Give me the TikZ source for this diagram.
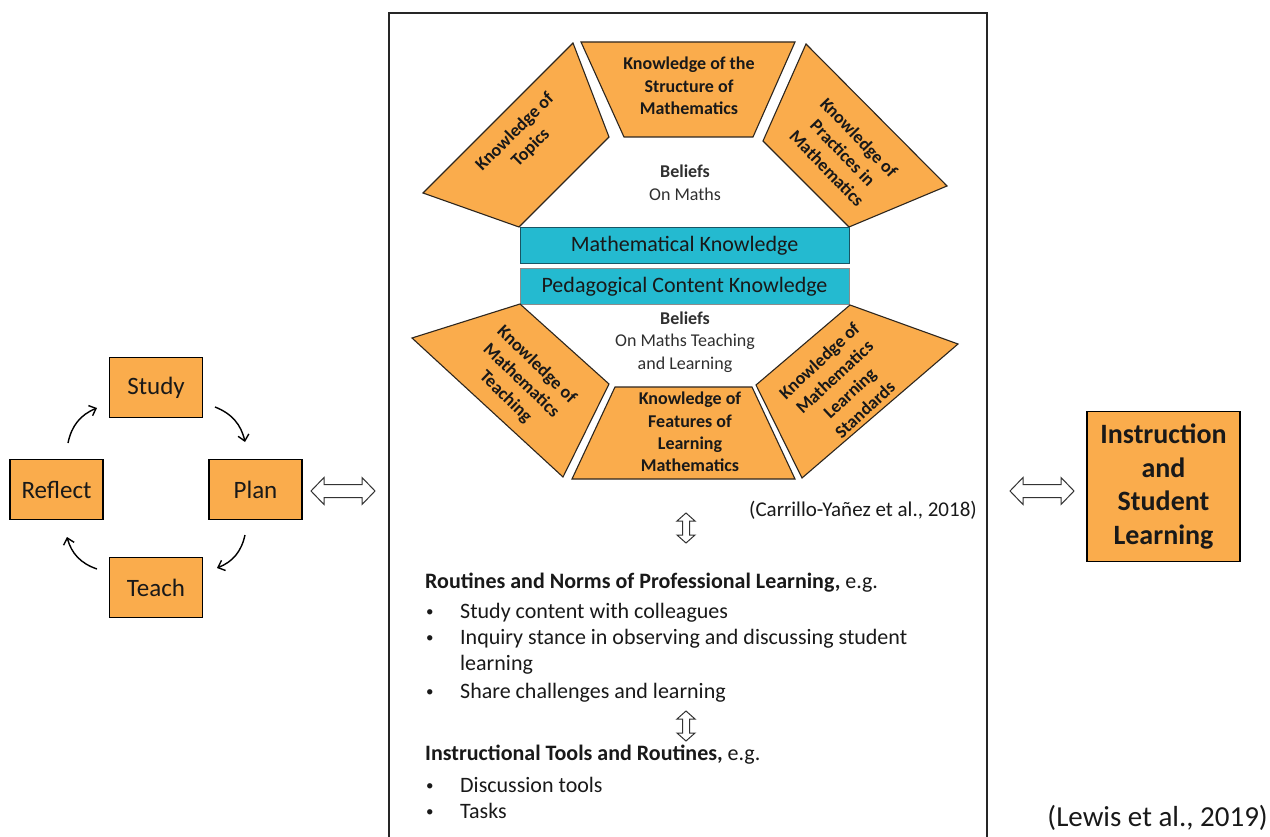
\documentclass[tikz,border=0pt]{standalone}
\usepackage{fontspec}
\setmainfont{Carlito}
\usetikzlibrary{arrows.meta}
\definecolor{org}{RGB}{250,172,76}
\definecolor{barfill}{RGB}{36,186,208}
\definecolor{barline}{RGB}{25,85,100}
\definecolor{edgecol}{RGB}{45,38,30}
\definecolor{txt}{RGB}{25,25,25}
\newcommand\myfs[2]{\fontsize{#1}{#2}\selectfont}
\tikzset{
  cyclebox/.style={draw=black, line width=1.6pt, fill=org, minimum width=93pt,
    minimum height=60pt, inner sep=0pt, font=\myfs{25}{30}, text=txt},
  cycarrow/.style={-{Straight Barb[length=6pt,width=11pt]}, line width=1.4pt, bend left=28},
  orgshape/.style={draw=edgecol, line width=1.1pt, fill=org, line join=miter},
  olabel/.style={font=\myfs{18}{22.3}\bfseries, align=center, text=txt, inner sep=0pt},
  barbox/.style={draw=barline, line width=1pt, fill=barfill, minimum width=329pt,
    minimum height=36pt, inner sep=0pt, font=\myfs{22}{26}, text=txt},
  belief/.style={font=\myfs{18}{22.5}, align=center, text=txt!90, inner sep=0pt},
  bodytext/.style={font=\myfs{22}{26}, text=txt, inner sep=0pt, anchor=base west},
  bul/.style={font=\myfs{15}{18}, text=txt, inner sep=0pt, anchor=base west},
  hollow/.style={draw=black!80, line width=1pt, fill=white, line join=miter},
  hdbl/.pic={\draw[hollow] (-32,0) -- (-19,-13.5) -- (-19,-6.5) -- (19,-6.5) -- (19,-13.5)
     -- (32,0) -- (19,13.5) -- (19,6.5) -- (-19,6.5) -- (-19,13.5) -- cycle;},
  vdbl/.pic={\draw[hollow] (0,-15) -- (-9,-7) -- (-3.5,-7) -- (-3.5,7) -- (-9,7)
     -- (0,15) -- (9,7) -- (3.5,7) -- (3.5,-7) -- (9,-7) -- cycle;}
}
\begin{document}
\begin{tikzpicture}[x=1pt,y=-1pt]
\useasboundingbox (0,0) rectangle (1270,837);
\fill[white] (0,0) rectangle (1270,837);

% ---------- cycle ----------
\node[cyclebox] (study)   at (156,387.5) {Study};
\node[cyclebox] (plan)    at (255.5,489.5) {Plan};
\node[cyclebox] (reflect) at (56.5,489.5) {Reflect};
\node[cyclebox] (teach)   at (156,587.5) {Teach};
\coordinate (a1s) at (215,407);  \coordinate (a1e) at (245,442);
\coordinate (a2s) at (245,535);  \coordinate (a2e) at (217,568);
\coordinate (a3s) at (97,569);   \coordinate (a3e) at (67,537);
\coordinate (a4s) at (68,443);   \coordinate (a4e) at (97,408);
\draw[cycarrow] (a1s) to (a1e);
\draw[cycarrow] (a2s) to (a2e);
\draw[cycarrow] (a3s) to (a3e);
\draw[cycarrow] (a4s) to (a4e);

% ---------- main box ----------
\draw[line width=1.4pt, draw=black!85] (389,837) -- (389,13) -- (987,13) -- (987,837);

% double arrows left / right
\coordinate (dl) at (343,491);
\coordinate (dr) at (1042,491);
\pic at (dl) {hdbl};
\pic at (dr) {hdbl};

% ---------- top shapes ----------
\draw[orgshape] (581,42) -- (795,42) -- (753,137) -- (624,137) -- cycle;
\draw[orgshape] (573,43) -- (609,137) -- (519,227) -- (423,193) -- cycle;
\draw[orgshape] (806,44) -- (947,186) -- (849,227) -- (763,141) -- cycle;
\node[olabel] (kstruct) at (689,86) {Knowledge of the\\Structure of\\Mathematics};
\node[olabel, rotate=45] (ktopics) at (523,140) {Knowledge of\\Topics};
\node[olabel, rotate=-46] (kpract) at (843,153) {Knowledge of\\Practices in\\Mathematics};

\node[belief] (bel1) at (685,183) {\textbf{Beliefs}\\On Maths};

% ---------- bars ----------
\node[barbox] (mk)  at (684.5,246) {Mathematical Knowledge};
\node[barbox, draw=black!45] (pck) at (684.5,286.5) {Pedagogical Content Knowledge};

% ---------- bottom shapes ----------
\draw[orgshape] (520,304) -- (609,384) -- (563,477) -- (412,338) -- cycle;
\draw[orgshape] (615,387) -- (752,387) -- (795,479) -- (572,479) -- cycle;
\draw[orgshape] (850,305) -- (958,344) -- (802,478) -- (756,385) -- cycle;
\node[olabel, rotate=-44] (kteach) at (521,381) {Knowledge of\\Mathematics\\Teaching};
\node[olabel] (kfeat) at (690,432) {Knowledge of\\Features of\\Learning\\Mathematics};
\node[olabel, rotate=43] (kstand) at (842,385) {Knowledge of\\Mathematics\\Learning\\Standards};

\node[belief] (bel2) at (685,342) {\textbf{Beliefs}\\On Maths Teaching\\and Learning};

% ---------- citation ----------
\node[font=\myfs{21}{25}, text=txt, anchor=east, inner sep=0pt] (carr) at (977,510) {(Carrillo-Yañez et al., 2018)};

\coordinate (v1) at (686,528);
\pic at (v1) {vdbl};

% ---------- text block ----------
\node[bodytext] (rout) at (425,588) {\textbf{Routines and Norms of Professional Learning,} e.g.};
\node[bul] (b1) at (426,616) {\textbullet};
\node[bodytext] (i1) at (460,618) {Study content with colleagues};
\node[bul] (b2) at (426,642) {\textbullet};
\node[bodytext] (i2) at (460,644) {Inquiry stance in observing and discussing student};
\node[bodytext] (i2b) at (460,670) {learning};
\node[bul] (b3) at (426,696) {\textbullet};
\node[bodytext] (i3) at (460,698) {Share challenges and learning};

\coordinate (v2) at (686,726);
\pic at (v2) {vdbl};

\node[bodytext] (instr) at (425,760) {\textbf{Instructional Tools and Routines,} e.g.};
\node[bul] (b4) at (426,790) {\textbullet};
\node[bodytext] (i4) at (460,792) {Discussion tools};
\node[bul] (b5) at (426,816) {\textbullet};
\node[bodytext] (i5) at (460,818) {Tasks};

% ---------- right box ----------
\node[draw=black, line width=1.6pt, fill=org, minimum width=153pt, minimum height=150pt,
  inner sep=0pt, align=center, font=\myfs{28}{33.7}\bfseries, text=txt] (instsl) at (1163.5,486.5)
  {Instruction\\and\\Student\\Learning};

\node[font=\myfs{29}{34}, text=txt, anchor=east, inner sep=0pt] (lewis) at (1268,818) {(Lewis et al., 2019)};
\end{tikzpicture}
\end{document}
